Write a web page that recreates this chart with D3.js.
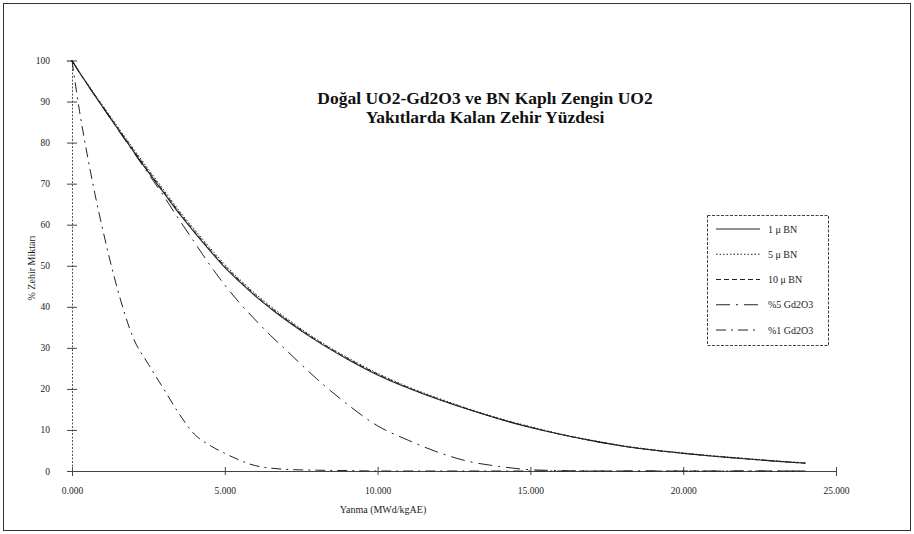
<!DOCTYPE html>
<html>
<head>
<meta charset="utf-8">
<script src="https://cdn.jsdelivr.net/npm/d3@7"></script>
<style>
  body { margin: 0; background: #fff; }
  svg { display: block; font-family: "Liberation Serif", "DejaVu Serif", serif; }
</style>
</head>
<body>
<div id="chart"></div>
<script>
// burnup (MWd/kgAE) sample points shared by all series
const burnup = [0, 250, 500, 750, 1000, 1500, 2000, 2500, 3000, 3500, 4000, 4500, 5000, 5500, 6000, 6500, 7000,
  8000, 9000, 10000, 11000, 12000, 13000, 14000, 15000, 16000, 17000, 18000, 19000, 20000, 21000, 22000, 23000, 24000];

const bn1 = [100, 97, 94.2, 91.4, 88.7, 83.3, 78, 72.8, 67.8, 62.8, 58.2, 53.8, 49.6, 46, 42.6, 39.6, 36.8,
  31.7, 27.3, 23.4, 20.2, 17.4, 14.9, 12.6, 10.6, 8.9, 7.4, 6.1, 5.1, 4.3, 3.6, 3, 2.4, 1.9];
const bn5 = [100, 97.1, 94.4, 91.7, 89.1, 83.8, 78.6, 73.5, 68.5, 63.5, 58.9, 54.5, 50.3, 46.6, 43.2, 40.1, 37.3,
  32.1, 27.7, 23.8, 20.5, 17.7, 15.1, 12.8, 10.8, 9, 7.5, 6.2, 5.2, 4.4, 3.7, 3.1, 2.5, 2];
const bn10 = [100, 97, 94.3, 91.6, 88.9, 83.6, 78.3, 73.1, 68.1, 63.1, 58.5, 54.1, 49.9, 46.3, 42.9, 39.8, 37,
  31.9, 27.5, 23.6, 20.3, 17.5, 15, 12.7, 10.7, 8.9, 7.4, 6.1, 5.1, 4.3, 3.6, 3, 2.4, 1.9];
const gd5 = [100, 97, 94.2, 91.4, 88.7, 83.2, 77.8, 72.4, 67, 61.3, 55.8, 50.3, 45.3, 40.8, 36.8, 33, 29.5,
  22.5, 16.3, 11, 7.5, 4.5, 2.3, 1.1, 0.3, 0.1, 0, 0, 0, 0, 0, 0, 0, 0];
const gd1 = [100, 87.5, 77, 67.5, 59, 44, 32.5, 26, 20, 14, 9, 6.3, 4.3, 2.6, 1.3, 0.7, 0.4,
  0.2, 0.1, 0, 0, 0, 0, 0, 0, 0, 0, 0, 0, 0, 0, 0, 0, 0];

const seriesNames = ['1 \u03bc BN', '5 \u03bc BN', '10 \u03bc BN', '%5 Gd2O3', '%1 Gd2O3'];
const seriesValues = [bn1, bn5, bn10, gd5, gd1];
const seriesDash = [null, '1.5,2', '5,3', '14,6,2,6', '10,5,2,5'];

const xTicks = [0, 5000, 10000, 15000, 20000, 25000];
const xTickLabels = ['0.000', '5.000', '10.000', '15.000', '20.000', '25.000'];
const yTicks = [0, 10, 20, 30, 40, 50, 60, 70, 80, 90, 100];

const W = 914, H = 534;
const svg = d3.select('#chart').append('svg').attr('width', W).attr('height', H);

// outer frame
svg.append('rect')
  .attr('x', 3.5).attr('y', 3.5).attr('width', W - 7).attr('height', H - 7)
  .attr('fill', 'none').attr('stroke', '#333').attr('stroke-width', 1);

const x = d3.scaleLinear().domain([0, 25000]).range([72, 836]);
const y = d3.scaleLinear().domain([0, 100]).range([471, 60.5]);

// axes
const xAxis = svg.append('g').attr('transform', `translate(0,${y(0)})`)
  .call(d3.axisBottom(x).tickValues(xTicks).tickSize(5).tickFormat((d, i) => xTickLabels[i]));
xAxis.select('.domain').attr('stroke', '#444');
xAxis.selectAll('.tick line').attr('stroke', '#444').attr('y1', -4).attr('y2', 4);
xAxis.selectAll('.tick text').attr('y', 16).attr('font-size', 9.5)
  .attr('font-family', 'Liberation Serif, serif').attr('fill', '#222');

const yAxis = svg.append('g').attr('transform', `translate(${x(0)},0)`)
  .call(d3.axisLeft(y).tickValues(yTicks).tickSize(5));
yAxis.select('.domain').attr('stroke', '#555').attr('stroke-dasharray', '2,1.5');
yAxis.selectAll('.tick line').attr('stroke', '#444').attr('x1', -5).attr('x2', 5);
yAxis.selectAll('.tick text').attr('x', -22).attr('font-size', 9.5)
  .attr('font-family', 'Liberation Serif, serif').attr('fill', '#222');

// curves
const line = d3.line()
  .x((d, i) => x(burnup[i]))
  .y(d => y(d))
  .curve(d3.curveMonotoneX);

svg.append('g').selectAll('path')
  .data(seriesValues)
  .join('path')
  .attr('d', d => line(d))
  .attr('fill', 'none')
  .attr('stroke', '#222')
  .attr('stroke-width', (d, i) => i === 0 ? 1.1 : 1)
  .attr('stroke-dasharray', (d, i) => seriesDash[i]);

// title
const title = svg.append('text')
  .attr('x', 485).attr('text-anchor', 'middle')
  .attr('font-weight', 'bold').attr('font-size', 17.5).attr('fill', '#111');
title.append('tspan').attr('x', 485).attr('y', 104).text('Doğal UO2-Gd2O3 ve BN Kaplı Zengin UO2');
title.append('tspan').attr('x', 485).attr('y', 123).text('Yakıtlarda Kalan Zehir Yüzdesi');

// axis titles
svg.append('text')
  .attr('x', 383).attr('y', 513).attr('text-anchor', 'middle')
  .attr('font-size', 10).attr('fill', '#222')
  .text('Yanma (MWd/kgAE)');
svg.append('text')
  .attr('transform', 'translate(35,268) rotate(-90)')
  .attr('text-anchor', 'middle')
  .attr('font-size', 10).attr('fill', '#222')
  .text('% Zehir Miktarı');

// legend
const legend = svg.append('g');
legend.append('rect')
  .attr('x', 707.5).attr('y', 215.5).attr('width', 121).attr('height', 130)
  .attr('fill', '#fff').attr('stroke', '#444').attr('stroke-dasharray', '3,1.5');
const legendY = d3.scalePoint().domain(seriesNames).range([229, 330]);
const items = legend.selectAll('g.item')
  .data(seriesNames)
  .join('g')
  .attr('class', 'item')
  .attr('transform', d => `translate(0,${legendY(d)})`);
items.append('line')
  .attr('x1', 716).attr('x2', 760)
  .attr('stroke', '#222')
  .attr('stroke-dasharray', (d, i) => seriesDash[i]);
items.append('text')
  .attr('x', 768).attr('dy', '0.35em')
  .attr('font-size', 10).attr('fill', '#222')
  .text(d => d);
</script>
</body>
</html>
